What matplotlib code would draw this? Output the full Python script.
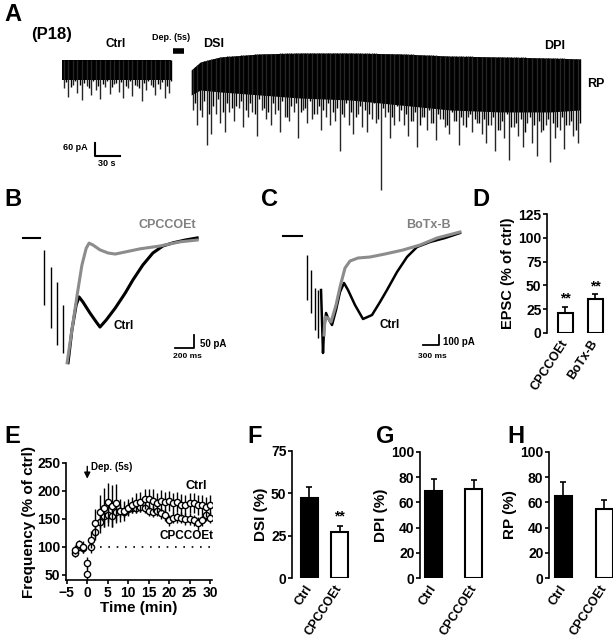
"""
Multi-panel figure: DSI / DPI / RP of spontaneous EPSCs (P18)
"""
import numpy as np
import matplotlib
matplotlib.use('Agg')
import matplotlib.pyplot as plt

plt.rcParams['font.family'] = ['Liberation Sans', 'DejaVu Sans']
plt.rcParams['font.weight'] = 'bold'
plt.rcParams['axes.labelweight'] = 'bold'

W, H = 613, 640

# ---------------- data ----------------
# A: spontaneous EPSC trace (pA); large events every 5.5 s, smaller ones in between
ctrl_start, ctrl_end, ctrl_dt = 0, 131, 5.5
ctrl_floor = -90
ctrl_events = [-130, -170, -115, -150, -185, -120, -160, -140, -180, -125, -155, -110,
               -145, -175, -130, -165, -120, -190, -140, -115, -160, -135, -175, -150]
ctrl_minor = [-100, -125, -95, -115, -105, -130, -98, -120, -110, -95, -125, -105,
              -100, -120, -95, -115, -130, -105, -95, -125, -110, -100, -120, -95]
main_start, main_dt = 157, 5.5
main_knot_t = [155, 166, 190, 238, 286, 346, 406, 466, 526, 586, 622]
main_top = [-46, -9, 14, 28, 32, 32, 28, 18, 14, 9, 5]
main_floor = [-161, -138, -147, -161, -175, -184, -207, -230, -239, -239, -230]
main_events = [-230, -300, -260, -390, -340, -250, -290, -330, -240,
               -280, -220, -310, -260, -240, -350, -230, -270, -300, -250, -330,
               -260, -280, -240, -360, -230, -290, -270, -250, -320, -260, -300,
               -280, -420, -260, -300, -340, -250, -310, -330, -270, -290, -600,
               -260, -360, -300, -280,
               -300, -350, -280, -400, -260, -320, -290, -370, -270, -310, -340,
               -280, -390, -300, -260, -330, -290,
               -340, -380, -300, -420, -320, -360, -460, -310, -350, -400, -290,
               -380, -440, -330, -300, -470, -360, -320, -410, -300, -350, -380]
main_minor = [-200, -230, -190, -250, -210, -180, -240, -200, -220,
              -210, -190, -230, -200, -250, -180, -220, -240, -200, -230, -190,
              -260, -210, -200, -240, -220, -190, -250, -210, -230, -200, -240,
              -220, -250, -200, -240, -260, -210, -230, -250, -200, -270, -220,
              -240, -260, -210, -230,
              -250, -280, -240, -300, -260, -230, -290, -250, -270, -300, -240,
              -280, -260, -310, -250, -270, -290,
              -270, -300, -260, -320, -280, -250, -310, -290, -270, -330, -260,
              -300, -280, -320, -270, -290, -310, -260, -300, -280, -320, -290]

# B: evoked EPSC, Ctrl vs CPCCOEt (ms, pA)
b_art_t = [252, 325, 388, 451]
b_art_top = [-46, -112, -169, -258]
b_art_bot = [-258, -346, -412, -443]
b_cpc_t = [495, 545, 600, 650, 695, 725, 765, 840, 925, 1000, 1105, 1260, 1470, 1680, 1860]
b_cpc_i = [-480, -355, -220, -105, -40, -20, -27, -46, -58, -62, -54, -42, -31, -15, -8]
b_ctrl_t = [505, 545, 590, 620, 660, 735, 800, 840, 905, 1000, 1105, 1185, 1290, 1395,
            1500, 1605, 1735, 1860]
b_ctrl_i = [-480, -355, -258, -227, -246, -289, -323, -343, -316, -270, -212, -162, -104,
            -58, -31, -19, -8, 0]

# C: evoked EPSC, Ctrl vs BoTx-B (ms, pA)
c_art_t = [506, 581, 656, 713]
c_art_top = [-190, -340, -520, -540]
c_art_bot = [-640, -770, -940, -1020]
c_ctrl_t = [769, 806, 825, 863, 900, 975, 1050, 1125, 1200, 1275, 1406, 1556, 1725, 1875,
            2006, 2194, 2381, 2569, 2813, 3094, 3375]
c_ctrl_i = [-540, -1170, -940, -770, -820, -890, -740, -560, -470, -540, -690, -830, -790,
            -660, -540, -360, -210, -110, -60, -20, 30]
c_botx_t = [825, 844, 900, 956, 1050, 1125, 1219, 1313, 1463, 1688, 1969, 2306, 2625, 2944, 3375]
c_botx_i = [-990, -810, -820, -860, -690, -510, -320, -250, -220, -210, -180, -140, -90, -20, 40]

# D: EPSC (% of ctrl)
d_labels = ['CPCCOEt', 'BoTx-B']
d_mean = [21, 35.5]
d_sem = [6.5, 5]

# E: sEPSC frequency (% of ctrl) vs time (min)
e_time = list(range(-3, 31))
e_ctrl = [95, 105, 100, 52, 113, 143, 163, 170, 180, 173, 178, 165, 165, 170, 175, 178, 180,
          185, 185, 183, 178, 183, 180, 182, 178, 180, 175, 175, 178, 178, 175, 175, 172, 175]
e_ctrl_err = [8, 8, 10, 12, 15, 25, 30, 35, 35, 38, 35, 20, 18, 15, 15, 18, 18, 18, 18, 20,
              18, 18, 18, 18, 18, 18, 20, 18, 18, 18, 18, 18, 18, 18]
e_cpc = [90, 100, 98, 72, 100, 127, 145, 155, 157, 155, 162, 165, 163, 168, 170, 170, 172,
         170, 165, 163, 165, 160, 157, 148, 152, 153, 152, 150, 150, 148, 142, 148, 157, 152]
e_cpc_err = [8, 6, 8, 10, 10, 15, 20, 20, 20, 20, 15, 12, 10, 10, 10, 10, 10, 10, 10, 10,
             10, 10, 10, 10, 10, 10, 10, 10, 10, 10, 12, 10, 10, 10]

# F-H: DSI / DPI / RP (%)
grp_labels = ['Ctrl', 'CPCCOEt']
dsi_mean, dsi_sem = [47.5, 27], [6, 4]
dpi_mean, dpi_sem = [69, 71], [9.5, 6.5]
rp_mean, rp_sem = [65, 54.5], [11, 7.5]


def rect(l, t, r, b):
    return [l / W, 1 - b / H, (r - l) / W, (b - t) / H]


fig = plt.figure(figsize=(W / 100, H / 100), dpi=100)


def ftext(x, y, s, size=9, ha='center', va='center', **kw):
    fig.text(x / W, 1 - y / H, s, fontsize=size, ha=ha, va=va, fontweight='bold', **kw)


# ---------------- panel A ----------------
axA = fig.add_axes(rect(0, 0, 613, 200))
axA.set_xlim(-74.4, 661.2)
axA.set_ylim(-644, 276)
axA.axis('off')
axA.fill_between([ctrl_start, ctrl_end], [0, 0], [ctrl_floor, ctrl_floor], color='k', lw=0)
ev_t = ctrl_start + 2 + ctrl_dt * np.arange(len(ctrl_events))
axA.vlines(ev_t, 0, ctrl_events, color='0.15', lw=1)
axA.vlines(ev_t + ctrl_dt / 2, 0, ctrl_minor, color='k', lw=1)
axA.fill_between(main_knot_t, main_top, main_floor, color='k', lw=0)
ev_t = main_start + main_dt * np.arange(len(main_events))
axA.vlines(ev_t, np.interp(ev_t, main_knot_t, main_top), main_events, color='0.15', lw=1)
ev_t = ev_t + main_dt / 2
axA.vlines(ev_t, np.interp(ev_t, main_knot_t, main_top), main_minor, color='k', lw=1)
axA.plot([133, 146], [41, 41], color='k', lw=4, solid_capstyle='butt')
# scale bar 60 pA / 30 s
axA.plot([39.6, 39.6, 69.6], [-382, -442, -442], color='k', lw=1.5)

ftext(4, 3, 'A', size=17, ha='left', va='top')
ftext(52, 35, '(P18)', size=12)
ftext(116, 44, 'Ctrl', size=8.5)
ftext(171, 38, 'Dep. (5s)', size=6.5)
ftext(214, 44, 'DSI', size=9)
ftext(555, 46, 'DPI', size=9)
ftext(596, 84, 'RP', size=9)
ftext(88, 148, '60 pA', size=6.5, ha='right')
ftext(107, 164, '30 s', size=6.5)

# ---------------- panel B ----------------
axB = fig.add_axes(rect(15, 220, 235, 365))
axB.set_xlim(-52, 2257)
axB.set_ylim(-489, 69)
axB.axis('off')
axB.plot([31, 210], [0, 0], color='k', lw=1.5)
axB.vlines(b_art_t, b_art_top, b_art_bot, color='k', lw=1)
axB.plot(b_ctrl_t, b_ctrl_i, color='k', lw=2.2)
axB.plot(b_cpc_t, b_cpc_i, color='0.55', lw=2.2)
axB.plot([1627, 1827, 1827], [-423, -423, -373], color='k', lw=1.3)
ftext(4, 188, 'B', size=17, ha='left', va='top')
ftext(167, 225, 'CPCCOEt', size=9, color='0.5')
ftext(124, 326, 'Ctrl', size=8.5)
ftext(200, 344, '50 pA', size=7, ha='left')
ftext(187, 357, '200 ms', size=6)

# ---------------- panel C ----------------
axC = fig.add_axes(rect(270, 220, 465, 365))
axC.set_xlim(-188, 3469)
axC.set_ylim(-1290, 160)
axC.axis('off')
axC.plot([56, 412], [0, 0], color='k', lw=1.5)
axC.vlines(c_art_t, c_art_top, c_art_bot, color='k', lw=1)
axC.plot(c_ctrl_t, c_ctrl_i, color='k', lw=1.8)
axC.plot(c_botx_t, c_botx_i, color='0.55', lw=2.2)
axC.plot([2681, 2981, 2981], [-1090, -1090, -990], color='k', lw=1.3)
ftext(261, 188, 'C', size=17, ha='left', va='top')
ftext(428, 225, 'BoTx-B', size=9, color='0.5')
ftext(390, 325, 'Ctrl', size=8.5)
ftext(443, 342, '100 pA', size=7, ha='left')
ftext(432, 356, '300 ms', size=6)


def style_bar_axes(ax, ymax, yticks, labels):
    ax.set_ylim(0, ymax)
    ax.set_yticks(yticks)
    for s in ['top', 'right', 'bottom']:
        ax.spines[s].set_visible(False)
    ax.spines['left'].set_linewidth(1.2)
    ax.tick_params(axis='y', direction='out', length=3, width=1.2, labelsize=10, pad=1)
    ax.set_xticks(range(len(labels)))
    ax.set_xticklabels(labels, rotation=57, ha='right', va='center',
                       rotation_mode='anchor', fontsize=9)
    ax.tick_params(axis='x', length=0, pad=6)
    ax.set_facecolor('none')


def draw_bars(ax, means, sems, colors, width):
    for i, (m, e, c) in enumerate(zip(means, sems, colors)):
        ax.errorbar(i, m, yerr=[[0], [e]], color='k', lw=1.2, capsize=2.5, capthick=1.2,
                    zorder=1)
        ax.bar(i, m, width, color=c, edgecolor='k', lw=1.5, zorder=2)


# ---------------- panel D ----------------
axD = fig.add_axes(rect(547, 214, 610, 333))
draw_bars(axD, d_mean, d_sem, ['white', 'white'], 0.5)
axD.set_xlim(-0.6, 1.5)
style_bar_axes(axD, 125, [0, 25, 50, 75, 100, 125], d_labels)
axD.set_ylabel('EPSC (% of ctrl)', fontsize=10.5, labelpad=2)
for i in range(2):
    axD.text(i, d_mean[i] + d_sem[i] + 1, '**', ha='center', va='bottom', fontsize=10)
ftext(472, 188, 'D', size=17, ha='left', va='top')

# ---------------- panel E ----------------
axE = fig.add_axes(rect(66, 463, 212, 580))
axE.axhline(100, xmin=0.06, color='k', lw=1.2, ls=(0, (1, 4)))
axE.errorbar(e_time, e_cpc, yerr=e_cpc_err, fmt='o', ms=4.5, mfc='white', mec='k', mew=1,
             ecolor='k', elinewidth=1, capsize=0, zorder=3)
axE.errorbar(e_time, e_ctrl, yerr=e_ctrl_err, fmt='o', ms=4.5, mfc='white', mec='k', mew=1,
             ecolor='k', elinewidth=1, capsize=0, zorder=4)
axE.set_xlim(-5.2, 30.5)
axE.set_ylim(41, 250)
axE.set_xticks(range(-5, 31, 5))
axE.set_yticks([50, 100, 150, 200, 250])
for s in ['top', 'right']:
    axE.spines[s].set_visible(False)
for s in ['left', 'bottom']:
    axE.spines[s].set_linewidth(1.2)
axE.tick_params(direction='out', length=3, width=1.2, labelsize=10, pad=1)
axE.set_xlabel('Time (min)', fontsize=11, labelpad=1)
axE.set_ylabel('Frequency (% of ctrl)', fontsize=11, labelpad=1)
axE.annotate('', xy=(0, 217), xytext=(0, 249),
             arrowprops=dict(arrowstyle='-|>', color='k', lw=1, mutation_scale=9))
axE.text(0.9, 243, 'Dep. (5s)', fontsize=7, ha='left', va='center')
ftext(196, 486, 'Ctrl', size=9)
ftext(186, 536, 'CPCCOEt', size=8.5)
ftext(4, 425, 'E', size=17, ha='left', va='top')

# ---------------- panels F-H ----------------
axF = fig.add_axes(rect(292, 451, 355, 578))
draw_bars(axF, dsi_mean, dsi_sem, ['k', 'white'], 0.56)
axF.set_xlim(-0.57, 1.5)
style_bar_axes(axF, 75, [0, 25, 50, 75], grp_labels)
axF.set_ylabel('DSI (%)', fontsize=11, labelpad=2)
axF.text(1, dsi_mean[1] + dsi_sem[1] + 1, '**', ha='center', va='bottom', fontsize=10)
ftext(247, 425, 'F', size=17, ha='left', va='top')

axG = fig.add_axes(rect(420, 452, 486, 578))
draw_bars(axG, dpi_mean, dpi_sem, ['k', 'white'], 0.42)
axG.set_xlim(-0.34, 1.3)
style_bar_axes(axG, 100, [0, 20, 40, 60, 80, 100], grp_labels)
axG.set_ylabel('DPI (%)', fontsize=11, labelpad=2)
ftext(376, 425, 'G', size=17, ha='left', va='top')

axH = fig.add_axes(rect(549, 452, 613, 578))
draw_bars(axH, rp_mean, rp_sem, ['k', 'white'], 0.42)
axH.set_xlim(-0.35, 1.21)
style_bar_axes(axH, 100, [0, 20, 40, 60, 80, 100], grp_labels)
axH.set_ylabel('RP (%)', fontsize=11, labelpad=2)
ftext(507, 425, 'H', size=17, ha='left', va='top')

fig.savefig('out.png', dpi=100)
plt.close(fig)
